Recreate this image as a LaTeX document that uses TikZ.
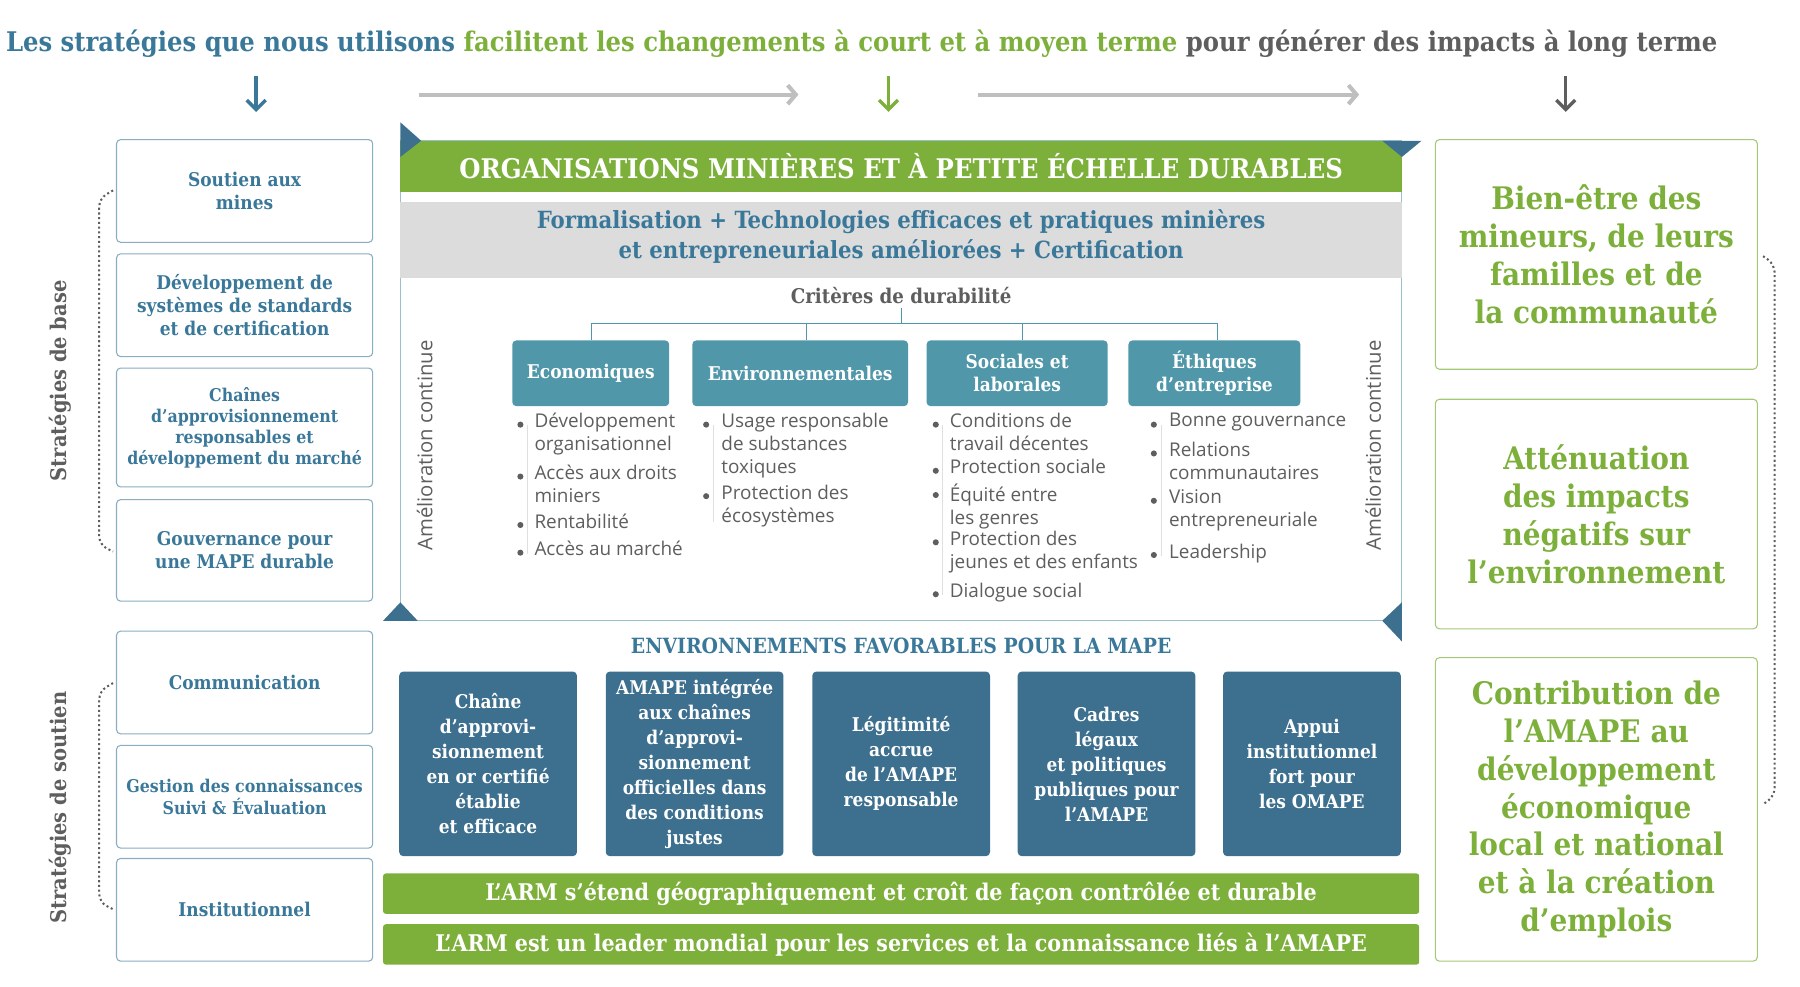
\documentclass[tikz,border=0pt]{standalone}
\usepackage{fontspec}
\setmainfont{DejaVu Serif Condensed}
\newfontfamily\bodyfont{Open Sans}
\usetikzlibrary{arrows.meta}
\definecolor{mblue}{HTML}{3A789A}
\definecolor{mgreen}{HTML}{7DB03A}
\definecolor{mgray}{HTML}{5E5E5E}
\definecolor{mteal}{HTML}{5097A9}
\definecolor{mdark}{HTML}{3D6F8F}
\definecolor{mband}{HTML}{DCDCDC}
\tikzset{
  leftbox/.style = {draw=mblue!60, rounded corners=3, line width=0.8pt, fill=white,
                    text=mblue, font=\bfseries\fontsize{14}{17}\selectfont, align=center},
  rightbox/.style = {draw=mgreen!70, rounded corners=3, line width=0.8pt,
                    text=mgreen, font=\bfseries\fontsize{23}{28}\selectfont, align=center},
  critbox/.style = {fill=mteal, rounded corners=3, text=white,
                    font=\bfseries\fontsize{14}{17}\selectfont, align=center},
  envbox/.style = {fill=mdark, rounded corners=3, text=white,
                    font=\bfseries\fontsize{14}{18.5}\selectfont, align=center},
  bar/.style = {fill=mgreen, rounded corners=2, text=white,
                    font=\bfseries\fontsize{17}{20}\selectfont},
  bul/.style = {anchor=north west, inner sep=0pt, align=left, text=mgray,
                font=\bodyfont\fontsize{14}{17}\selectfont},
  dotbul/.style = {circle, fill=mgray, minimum size=4.5pt, inner sep=0pt},
  sidelabel/.style = {rotate=90, text=mgray, font=\bfseries\fontsize{16}{18}\selectfont},
  loop/.style = {rotate=90, text=mgray, font=\bodyfont\fontsize{15}{18}\selectfont},
  downarrow/.style = {-{Straight Barb[length=7pt,width=14pt,line width=2.5pt]}, line width=2.5pt},
  longarrow/.style = {-{Straight Barb[length=6pt,width=14pt]}, line width=3pt, color=gray!50}
}
\begin{document}
\begin{tikzpicture}[x=0.03cm, y=-0.03cm]
  \useasboundingbox (0,0) rectangle (1560,855);

  % Title
  \node[anchor=west, inner sep=0pt, font=\bfseries\fontsize{20}{24}\selectfont] (title) at (5,38)
    {\textcolor{mblue}{Les stratégies que nous utilisons} \textcolor{mgreen}{facilitent les changements à court et à moyen terme} \textcolor{mgray}{pour générer des impacts à long terme}};

  % Arrows
  \coordinate (a1) at (222,66);  \coordinate (b1) at (222,97);
  \coordinate (a2) at (770,66);  \coordinate (b2) at (770,97);
  \coordinate (a3) at (1357,66); \coordinate (b3) at (1357,97);
  \draw[downarrow, mblue] (a1) -- (b1);
  \draw[downarrow, mgreen] (a2) -- (b2);
  \draw[downarrow, mgray] (a3) -- (b3);
  \coordinate (g1) at (363,82); \coordinate (h1) at (692,82);
  \coordinate (g2) at (848,82); \coordinate (h2) at (1178,82);
  \draw[longarrow] (g1) -- (h1);
  \draw[longarrow] (g2) -- (h2);

  % Left strategies
  \node[leftbox, minimum width=222*0.03cm, minimum height=89*0.03cm] (s1) at (212,165.5) {Soutien aux\\mines};
  \node[leftbox, minimum width=222*0.03cm, minimum height=89*0.03cm] (s2) at (212,264.5) {Développement de\\systèmes de standards\\et de certification};
  \node[leftbox, minimum width=222*0.03cm, minimum height=103*0.03cm, font=\bfseries\fontsize{13}{15.5}\selectfont] (s3) at (212,370.5) {Chaînes\\d’approvisionnement\\responsables et\\développement du marché};
  \node[leftbox, minimum width=222*0.03cm, minimum height=88*0.03cm] (s4) at (212,477) {Gouvernance pour\\une MAPE durable};
  \node[leftbox, minimum width=222*0.03cm, minimum height=89*0.03cm] (s5) at (212,591.5) {Communication};
  \node[leftbox, minimum width=222*0.03cm, minimum height=89*0.03cm, inner xsep=1pt, font=\bfseries\fontsize{13}{16}\selectfont] (s6) at (212,690.5) {Gestion des connaissances\\Suivi \& Évaluation};
  \node[leftbox, minimum width=222*0.03cm, minimum height=89*0.03cm] (s7) at (212,788.5) {Institutionnel};

  \node[sidelabel] (base) at (52,330) {Stratégies de base};
  \node[sidelabel] (soutien) at (52,700) {Stratégies de soutien};
  \draw[mgray, dotted, line width=1.5pt, rounded corners=6] (98,165) -- (86,172) -- (86,472) -- (98,478);
  \draw[mgray, dotted, line width=1.5pt, rounded corners=6] (98,592) -- (86,599) -- (86,782) -- (98,788);

  % Central panel
  \draw[mteal!60, line width=0.8pt] (347,122) rectangle (1215,538);
  \fill[mband] (347,175) rectangle (1215,241);
  \node[fill=mgreen, minimum width=868*0.03cm, minimum height=44*0.03cm, text=white,
        font=\bfseries\fontsize{20}{24}\selectfont] (head) at (781,144) {ORGANISATIONS MINIÈRES ET À PETITE ÉCHELLE DURABLES};
  \fill[mdark] (347,106) -- (365,122) -- (347,136) -- cycle;
  \fill[mdark] (1198,122) -- (1232,122) -- (1215,136) -- cycle;
  \fill[mdark] (332,538) -- (362,538) -- (347,522) -- cycle;
  \fill[mdark] (1215,522) -- (1215,556) -- (1198,538) -- cycle;
  \node[text=mblue, align=center, font=\bfseries\fontsize{17.5}{22}\selectfont] (form) at (781,205)
    {Formalisation + Technologies efficaces et pratiques minières\\et entrepreneuriales améliorées + Certification};
  \node[text=mgray, font=\bfseries\fontsize{15}{18}\selectfont] (crit) at (781,256) {Critères de durabilité};

  \node[critbox, minimum width=136*0.03cm, minimum height=57*0.03cm] (c1) at (512,323.5) {Economiques};
  \node[critbox, minimum width=187*0.03cm, minimum height=57*0.03cm] (c2) at (693.5,323.5) {Environnementales};
  \node[critbox, minimum width=157*0.03cm, minimum height=57*0.03cm] (c3) at (881.5,323.5) {Sociales et\\laborales};
  \node[critbox, minimum width=149*0.03cm, minimum height=57*0.03cm] (c4) at (1052.5,323.5) {Éthiques\\d’entreprise};
  \coordinate (t1) at (513,280); \coordinate (t4) at (1055,280);
  \draw[mteal, line width=0.8pt] (t1) -- (t4);
  \foreach \i/\x in {1/513,2/699,3/886,4/1055}
    \draw[mteal, line width=0.8pt] (\x,280) -- (c\i.north -| \x,0);
  \draw[mteal, line width=0.8pt] (crit.south) -- (781,280);

  % Bullet lists
  \foreach \y/\t [count=\k] in {358/{Développement\\organisationnel}, 403/{Accès aux droits\\miniers}, 445/{Rentabilité}, 469/{Accès au marché}} {
    \node[dotbul] (ea\k) at (451,\y+10) {};
    \node[bul] (et\k) at (463,\y) {\t};
  }
  \foreach \y/\t [count=\k] in {358/{Usage responsable\\de substances\\toxiques}, 420/{Protection des\\écosystèmes}} {
    \node[dotbul] (va\k) at (612,\y+10) {};
    \node[bul] (vt\k) at (625,\y) {\t};
  }
  \foreach \y/\t [count=\k] in {358/{Conditions de\\travail décentes}, 398/{Protection sociale}, 419/{Équité entre\\les genres}, 460/{Protection des\\jeunes et des enfants}, 505/{Dialogue social}} {
    \node[dotbul] (sa\k) at (811,\y+10) {};
    \node[bul] (st\k) at (823,\y) {\t};
  }
  \foreach \y/\t [count=\k] in {358/{Bonne gouvernance}, 383/{Relations\\communautaires}, 424/{Vision\\entrepreneuriale}, 471/{Leadership}} {
    \node[dotbul] (ha\k) at (1000,\y+10) {};
    \node[bul] (ht\k) at (1013,\y) {\t};
  }
  \draw[gray!25] (457,368) -- (457,480);
  \draw[gray!25] (618,368) -- (618,452);
  \draw[gray!25] (817,368) -- (817,516);
  \draw[gray!25] (1006,368) -- (1006,482);

  \node[loop] (am1) at (368,386) {Amélioration continue};
  \node[loop] (am2) at (1190,386) {Amélioration continue};

  % Enabling environments
  \node[text=mblue, font=\bfseries\fontsize{15.5}{18}\selectfont] (envt) at (781,560) {ENVIRONNEMENTS FAVORABLES POUR LA MAPE};
  \node[envbox, minimum width=154*0.03cm, minimum height=160*0.03cm] (e1) at (423,662) {Chaîne\\d’approvi-\\sionnement\\en or certifié\\établie\\et efficace};
  \node[envbox, minimum width=154*0.03cm, minimum height=160*0.03cm] (e2) at (602,662) {AMAPE intégrée\\aux chaînes\\d’approvi-\\sionnement\\officielles dans\\des conditions\\justes};
  \node[envbox, minimum width=154*0.03cm, minimum height=160*0.03cm] (e3) at (781,662) {Légitimité\\accrue\\de l’AMAPE\\responsable};
  \node[envbox, minimum width=154*0.03cm, minimum height=160*0.03cm] (e4) at (959,662) {Cadres\\légaux\\et politiques\\publiques pour\\l’AMAPE};
  \node[envbox, minimum width=154*0.03cm, minimum height=160*0.03cm] (e5) at (1137,662) {Appui\\institutionnel\\fort pour\\les OMAPE};

  \node[bar, minimum width=898*0.03cm, minimum height=35*0.03cm] (bar1) at (781,774.5) {L’ARM s’étend géographiquement et croît de façon contrôlée et durable};
  \node[bar, minimum width=898*0.03cm, minimum height=35*0.03cm] (bar2) at (781,818.5) {L’ARM est un leader mondial pour les services et la connaissance liés à l’AMAPE};

  % Long-term impacts
  \node[rightbox, minimum width=279*0.03cm, minimum height=199*0.03cm] (i1) at (1383.5,220.5) {Bien-être des\\mineurs, de leurs\\familles et de\\la communauté};
  \node[rightbox, minimum width=279*0.03cm, minimum height=199*0.03cm] (i2) at (1383.5,445.5) {Atténuation\\des impacts\\négatifs sur\\l’environnement};
  \node[rightbox, minimum width=279*0.03cm, minimum height=263*0.03cm] (i3) at (1383.5,701.5) {Contribution de\\l’AMAPE au\\développement\\économique\\local et national\\et à la création\\d’emplois};
  \draw[mgray, dotted, line width=1.5pt, rounded corners=6] (1528,222) -- (1538,229) -- (1538,690) -- (1528,697);
\end{tikzpicture}
\end{document}
